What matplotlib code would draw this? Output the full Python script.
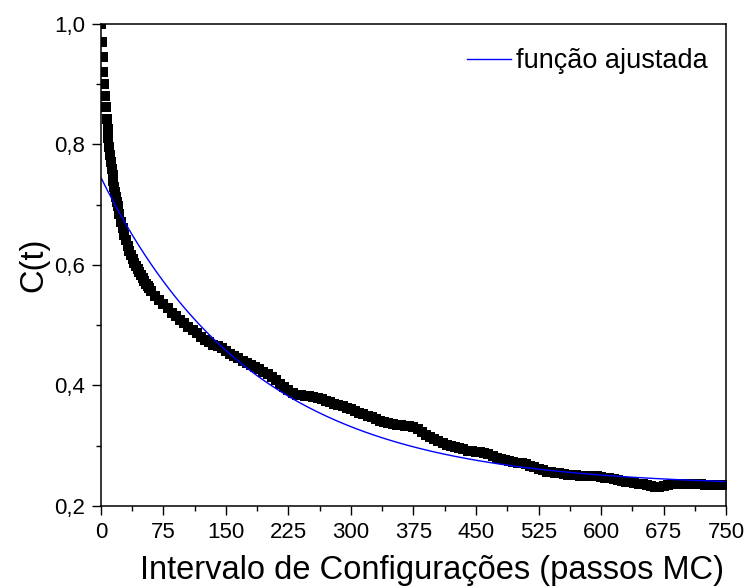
import numpy as np
import matplotlib
matplotlib.use("Agg")
import matplotlib.pyplot as plt
from matplotlib.ticker import MultipleLocator, FuncFormatter

plt.rcParams['font.family'] = ['Liberation Sans', 'DejaVu Sans']

# dados: C(t) medido
t_ini = list(range(0, 21))
c_ini = [1.000, 0.970, 0.945, 0.921, 0.900, 0.880, 0.862, 0.843, 0.826, 0.810,
         0.796, 0.783, 0.771, 0.760, 0.750, 0.740, 0.730, 0.721, 0.713, 0.705, 0.698]
t_mid = list(range(22, 61, 2))
c_mid = [0.685, 0.672, 0.661, 0.650, 0.641, 0.632, 0.624, 0.617, 0.610, 0.604,
         0.599, 0.594, 0.588, 0.583, 0.578, 0.573, 0.569, 0.565, 0.561, 0.557]
t_fim = list(range(65, 751, 5))
c_fim = [0.549, 0.542, 0.535, 0.528, 0.521, 0.515, 0.509, 0.503, 0.497, 0.492,
         0.487, 0.480, 0.476, 0.472, 0.468, 0.465, 0.462, 0.458, 0.452, 0.449,
         0.445, 0.441, 0.438, 0.434, 0.430, 0.427, 0.423, 0.419, 0.414, 0.409,
         0.403, 0.397, 0.392, 0.387, 0.385, 0.384, 0.383, 0.382, 0.381, 0.380,
         0.377, 0.374, 0.372, 0.370, 0.368, 0.366, 0.363, 0.361, 0.358, 0.355,
         0.352, 0.350, 0.347, 0.344, 0.341, 0.339, 0.337, 0.336, 0.335, 0.334,
         0.333, 0.332, 0.331, 0.328, 0.323, 0.318, 0.314, 0.311, 0.308, 0.305,
         0.302, 0.300, 0.298, 0.296, 0.294, 0.292, 0.291, 0.290, 0.289, 0.288,
         0.287, 0.283, 0.280, 0.278, 0.276, 0.274, 0.273, 0.272, 0.271, 0.269,
         0.267, 0.264, 0.261, 0.259, 0.257, 0.256, 0.255, 0.254, 0.253, 0.252,
         0.252, 0.251, 0.250, 0.250, 0.249, 0.249, 0.249, 0.248, 0.247, 0.246,
         0.244, 0.243, 0.242, 0.240, 0.239, 0.238, 0.237, 0.236, 0.234, 0.233,
         0.232, 0.232, 0.233, 0.235, 0.236, 0.237, 0.237, 0.237, 0.237, 0.236,
         0.236, 0.236, 0.235, 0.235, 0.235, 0.234, 0.234, 0.234]

t = np.array(t_ini + t_mid + t_fim)
c = np.array(c_ini + c_mid + c_fim)

# parametros do ajuste y = y0 + A*exp(-t/tau)
y0 = 0.232
A = 0.513
tau = 183.0
t_fit = np.linspace(0, 750, 400)
c_fit = y0 + A * np.exp(-t_fit / tau)

fig = plt.figure(figsize=(7.48, 5.88), dpi=100)
ax = fig.add_axes([0.135, 0.1395, 0.8356, 0.8197])

ax.plot(t, c, 's', color='black', ms=6.5, mew=0)
ax.plot(t_fit, c_fit, '-', color='#0000ff', lw=1.0, label='função ajustada')

ax.set_xlim(0, 750)
ax.set_ylim(0.2, 1.0)
ax.xaxis.set_major_locator(MultipleLocator(75))
ax.xaxis.set_minor_locator(MultipleLocator(37.5))
ax.yaxis.set_major_locator(MultipleLocator(0.2))
ax.yaxis.set_minor_locator(MultipleLocator(0.1))
ax.yaxis.set_major_formatter(FuncFormatter(lambda v, p: ('%.1f' % v).replace('.', ',')))

ax.tick_params(which='both', direction='out', top=False, right=False, labelsize=16, width=1.0)
ax.tick_params(which='major', length=6.5, pad=5)
ax.tick_params(which='minor', length=3.8)
for s in ax.spines.values():
    s.set_linewidth(1.1)

ax.set_xlabel('Intervalo de Configurações (passos MC)', fontsize=23.5)
ax.xaxis.set_label_coords(0.53, -0.102)
ax.set_ylabel('C(t)', fontsize=23.5, labelpad=3)

ax.legend(loc='upper right', frameon=False, fontsize=19.5, handlelength=1.6,
          handletextpad=0.2, bbox_to_anchor=(1.01, 1.0))

fig.savefig('out.png', dpi=100)
